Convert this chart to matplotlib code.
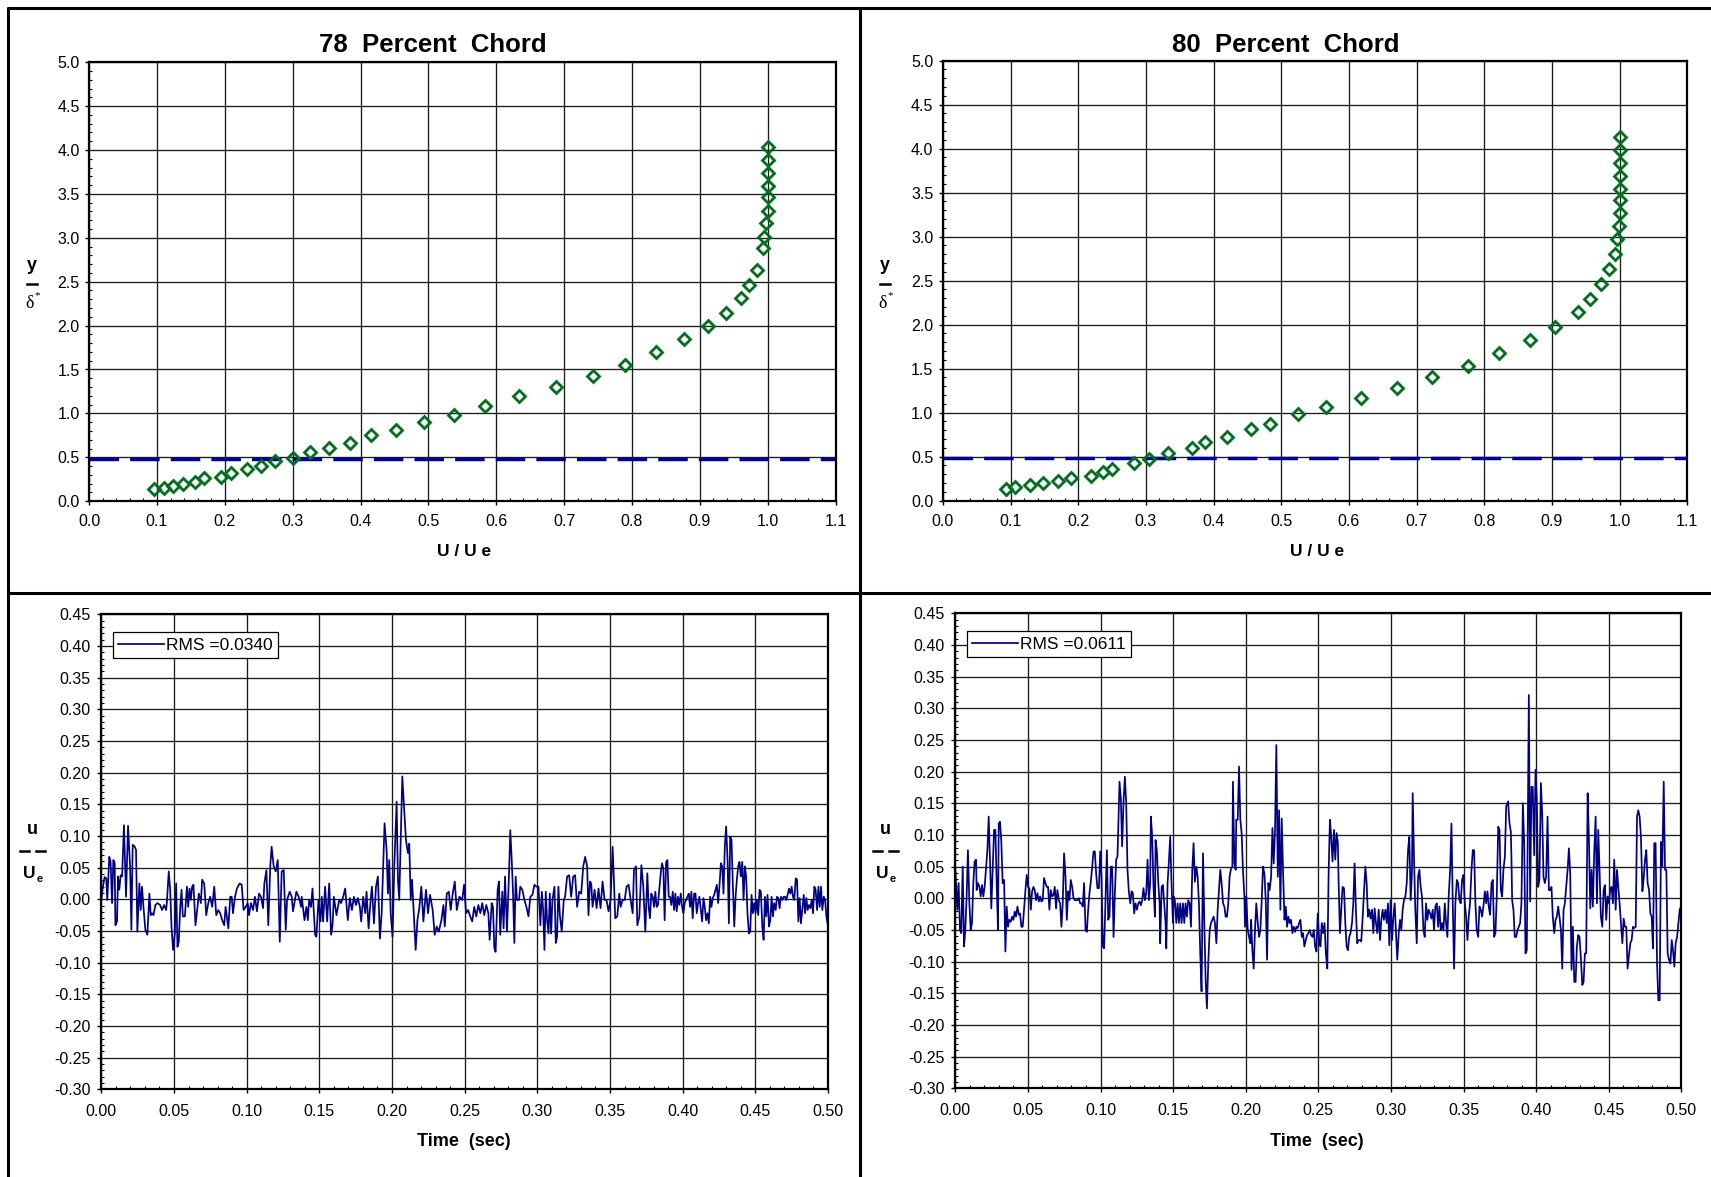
"""Boundary-layer surveys at 78 and 80 percent chord.

Top row: mean velocity profiles, y/delta* against U/Ue, with the reference
height drawn as a dashed line. Bottom row: hot-wire fluctuation traces u/Ue
against time, with the RMS level given in each legend. Saves ``out.png``.
"""

import matplotlib.pyplot as plt
import numpy as np
from matplotlib.lines import Line2D
from matplotlib.ticker import FormatStrFormatter, MultipleLocator

plt.rcParams["font.family"] = ["Liberation Sans", "DejaVu Sans"]
plt.rcParams["axes.unicode_minus"] = False

_W, _H = 1711, 1177
_INK = "#000000"
_GRID = "#1c1c1c"
_GREEN = "#00701e"
_NAVY = "#000084"
_DASH = "#000098"

STATIONS = ["78", "80"]

# Mean velocity profiles: U/Ue and y/delta*.
PROFILE_U_78 = [
    0.095, 0.110, 0.123, 0.139, 0.156, 0.170, 0.194, 0.209, 0.233, 0.253,
    0.274, 0.301, 0.326, 0.354, 0.384, 0.416, 0.452, 0.493, 0.538, 0.584,
    0.633, 0.688, 0.743, 0.789, 0.836, 0.877, 0.912, 0.938, 0.960, 0.973,
    0.984, 0.993, 0.995, 0.998, 1.000, 1.000, 1.000, 1.000, 1.000, 1.000,
]
PROFILE_Y_78 = [
    0.136, 0.155, 0.173, 0.196, 0.223, 0.261, 0.280, 0.325, 0.371, 0.405,
    0.454, 0.496, 0.557, 0.603, 0.667, 0.751, 0.811, 0.899, 0.978, 1.088,
    1.195, 1.301, 1.426, 1.555, 1.703, 1.852, 1.996, 2.148, 2.315, 2.467,
    2.634, 2.888, 3.013, 3.165, 3.309, 3.461, 3.590, 3.735, 3.886, 4.038,
]
PROFILE_U_80 = [
    0.093, 0.107, 0.128, 0.148, 0.170, 0.190, 0.219, 0.236, 0.250, 0.283,
    0.305, 0.332, 0.368, 0.388, 0.420, 0.456, 0.484, 0.525, 0.566, 0.618,
    0.671, 0.723, 0.776, 0.822, 0.867, 0.905, 0.938, 0.957, 0.973, 0.985,
    0.993, 0.996, 0.999, 1.000, 1.000, 1.000, 1.000, 1.000, 1.000, 1.000,
]
PROFILE_Y_80 = [
    0.133, 0.152, 0.174, 0.200, 0.223, 0.261, 0.280, 0.322, 0.364, 0.432,
    0.473, 0.542, 0.595, 0.663, 0.727, 0.811, 0.875, 0.985, 1.064, 1.170,
    1.277, 1.402, 1.530, 1.678, 1.830, 1.973, 2.140, 2.292, 2.466, 2.633,
    2.799, 2.973, 3.121, 3.265, 3.413, 3.542, 3.693, 3.833, 3.989, 4.136,
]
REF_HEIGHT = [0.48, 0.48]

# Fluctuation traces: (time in ms, u/Ue).
TRACE_78 = [
    (0.0, -0.001), (1.1, 0.020), (2.3, 0.035), (3.4, 0.033), (4.1, -0.001), (5.5, 0.067),
    (6.4, 0.059), (7.4, -0.006), (8.3, 0.062), (9.2, 0.057), (9.7, -0.041), (10.8, -0.035),
    (11.5, 0.036), (12.4, 0.015), (13.3, 0.038), (14.3, 0.036), (15.6, 0.117), (17.0, 0.004),
    (18.4, 0.116), (19.8, 0.052), (20.7, -0.048), (21.6, 0.086), (23.0, 0.083), (23.9, 0.078),
    (24.8, -0.051), (26.2, 0.025), (27.1, -0.017), (28.0, 0.020), (29.0, -0.012), (30.3, -0.048),
    (31.7, -0.056), (33.1, 0.009), (34.0, -0.025), (34.9, -0.022), (35.9, -0.025), (37.2, -0.009),
    (38.6, -0.006), (40.5, -0.009), (41.8, -0.017), (43.2, -0.009), (44.6, -0.017), (45.1, -0.006),
    (46.4, 0.044), (47.4, 0.015), (48.3, -0.043), (49.4, -0.080), (50.6, -0.054), (51.5, 0.025),
    (52.4, -0.075), (53.3, -0.067), (54.3, -0.012), (55.2, 0.015), (56.1, -0.027), (57.5, -0.027),
    (58.9, 0.020), (59.8, -0.012), (60.7, 0.017), (61.6, -0.001), (62.5, 0.020), (63.4, 0.023),
    (64.8, -0.041), (66.2, -0.012), (67.1, 0.009), (68.5, -0.006), (69.4, 0.031), (70.8, 0.025),
    (72.2, -0.025), (73.6, -0.006), (74.9, 0.004), (76.3, -0.012), (77.7, 0.020), (79.1, -0.025),
    (80.5, -0.017), (81.8, -0.022), (83.2, -0.033), (84.6, -0.041), (85.5, -0.012), (86.4, -0.027),
    (87.4, -0.046), (88.7, 0.004), (89.7, 0.004), (90.6, -0.022), (92.0, 0.004), (93.3, 0.017),
    (95.2, 0.025), (96.6, 0.023), (97.9, -0.017), (99.3, -0.012), (100.7, -0.006), (101.6, -0.025),
    (103.0, -0.006), (104.4, -0.017), (105.7, 0.004), (107.1, -0.019), (108.5, 0.009), (109.9, 0.004),
    (111.3, -0.014), (112.2, 0.025), (113.6, 0.046), (114.9, -0.041), (116.3, 0.054), (117.2, 0.083),
    (118.6, 0.052), (120.0, 0.044), (121.4, 0.062), (122.8, -0.067), (124.1, 0.044), (125.5, 0.046),
    (126.9, -0.048), (127.8, -0.001), (129.6, 0.012), (131.0, 0.004), (131.9, -0.019), (134.2, 0.012),
    (135.8, 0.004), (137.5, -0.012), (137.9, 0.004), (139.8, -0.033), (141.1, -0.012), (142.1, -0.033),
    (143.0, -0.001), (144.3, -0.012), (145.3, 0.017), (147.1, -0.056), (148.0, -0.059), (149.4, -0.001),
    (150.8, -0.035), (151.7, 0.004), (152.6, -0.035), (154.0, 0.020), (155.4, -0.035), (156.8, 0.025),
    (158.1, -0.056), (159.1, -0.041), (160.0, 0.004), (161.8, -0.025), (163.7, -0.001), (165.0, -0.006),
    (166.4, 0.004), (167.8, 0.017), (169.6, -0.033), (171.0, 0.002), (172.4, -0.017), (173.8, 0.004),
    (175.2, -0.009), (176.5, 0.002), (177.9, -0.012), (178.8, -0.035), (180.2, 0.004), (181.6, -0.022),
    (182.5, 0.012), (183.9, -0.046), (185.3, -0.001), (186.2, 0.020), (187.6, -0.038), (189.0, 0.020),
    (190.3, 0.036), (191.7, -0.062), (192.9, -0.022), (194.9, 0.120), (196.3, 0.078), (197.2, 0.009),
    (198.1, 0.062), (199.1, -0.022), (200.4, -0.059), (201.6, 0.052), (203.2, 0.154), (204.1, 0.031),
    (205.0, -0.001), (207.1, 0.194), (209.6, 0.094), (211.0, 0.073), (211.9, 0.088), (212.9, -0.001),
    (213.8, 0.031), (215.2, -0.033), (216.3, -0.080), (217.5, -0.033), (218.8, -0.014), (220.2, 0.020),
    (221.6, -0.035), (223.4, 0.015), (224.8, -0.022), (226.2, 0.007), (228.0, -0.017), (229.4, -0.056),
    (230.8, -0.043), (232.2, -0.051), (234.0, -0.033), (235.4, -0.009), (236.3, -0.043), (237.7, 0.009),
    (239.1, 0.012), (240.4, -0.017), (241.8, 0.009), (243.2, 0.028), (244.6, -0.017), (246.4, 0.004),
    (248.3, -0.001), (249.6, 0.023), (251.0, -0.022), (252.4, -0.017), (253.8, -0.027), (255.2, -0.035),
    (256.6, -0.012), (258.0, -0.027), (259.4, -0.009), (260.8, -0.022), (262.1, -0.006), (263.5, -0.025),
    (264.9, -0.009), (266.3, -0.022), (267.2, -0.064), (268.6, -0.006), (269.5, -0.012), (270.4, -0.077),
    (271.3, -0.083), (272.7, 0.015), (273.6, 0.028), (274.5, -0.056), (275.9, 0.012), (276.8, -0.046),
    (277.8, 0.036), (279.1, -0.051), (280.5, 0.038), (281.4, 0.109), (282.4, 0.062), (283.3, 0.009),
    (284.2, -0.069), (285.1, 0.036), (286.0, -0.001), (287.4, -0.001), (288.3, 0.020), (289.7, 0.015),
    (291.1, -0.001), (292.5, -0.012), (293.9, -0.027), (295.2, 0.004), (296.6, 0.007), (298.0, 0.023),
    (299.4, 0.020), (300.8, 0.020), (302.1, -0.041), (303.1, 0.012), (304.0, -0.017), (304.9, -0.080),
    (305.8, 0.012), (306.7, -0.033), (307.7, -0.054), (308.6, 0.009), (309.5, -0.054), (310.4, -0.001),
    (311.8, 0.020), (312.7, -0.069), (313.6, -0.059), (314.5, 0.020), (315.5, -0.025), (316.8, -0.051),
    (318.2, -0.001), (319.1, 0.004), (320.5, 0.036), (321.9, 0.038), (323.3, 0.004), (324.7, 0.036),
    (326.0, 0.038), (327.4, -0.012), (328.8, 0.012), (330.2, 0.009), (331.6, 0.052), (332.9, 0.067),
    (334.3, 0.052), (335.2, -0.025), (336.2, 0.028), (337.1, 0.025), (338.0, -0.012), (339.4, 0.015),
    (340.8, -0.014), (342.1, 0.017), (343.5, -0.014), (344.9, 0.028), (346.3, -0.001), (347.6, -0.001),
    (349.0, -0.019), (350.4, -0.001), (351.8, 0.083), (352.7, 0.031), (353.6, -0.030), (355.0, -0.027),
    (356.4, 0.009), (357.3, -0.012), (358.7, -0.001), (360.1, -0.001), (361.4, 0.020), (362.8, 0.023),
    (364.2, -0.001), (365.6, -0.022), (366.5, 0.046), (367.9, 0.052), (368.8, -0.041), (370.2, -0.027),
    (371.6, 0.054), (372.9, 0.020), (374.3, -0.051), (375.7, 0.041), (376.6, -0.012), (377.5, -0.030),
    (378.4, 0.009), (379.4, 0.004), (380.3, -0.012), (381.2, 0.012), (382.1, -0.012), (383.0, -0.009),
    (384.0, 0.017), (384.9, 0.041), (385.8, 0.057), (386.7, 0.049), (387.6, -0.033), (388.6, 0.059),
    (389.5, 0.062), (390.4, 0.004), (391.3, 0.004), (392.2, -0.009), (393.2, 0.012), (394.1, -0.017),
    (395.0, 0.009), (395.9, -0.019), (396.8, 0.004), (397.7, -0.009), (398.7, 0.009), (399.6, -0.012),
    (400.5, -0.022), (401.4, -0.006), (402.3, -0.001), (403.3, 0.004), (404.2, 0.009), (405.1, -0.012),
    (406.0, 0.012), (406.9, -0.030), (407.9, 0.009), (408.8, 0.009), (409.7, -0.022), (410.6, -0.006),
    (411.5, 0.004), (412.5, -0.017), (413.4, -0.035), (414.3, 0.002), (415.2, -0.012), (416.1, -0.033),
    (417.1, -0.022), (418.0, -0.038), (418.9, 0.004), (419.8, -0.012), (420.7, 0.002), (421.7, 0.007),
    (422.6, 0.015), (423.5, 0.023), (424.4, -0.006), (425.3, 0.020), (426.3, 0.057), (427.2, 0.052),
    (428.1, 0.009), (429.0, 0.083), (429.9, 0.115), (430.9, 0.062), (431.8, -0.038), (432.7, 0.099),
    (433.6, 0.094), (434.5, 0.025), (435.5, -0.043), (436.4, 0.004), (437.3, 0.031), (438.2, 0.052),
    (439.1, 0.059), (440.0, 0.036), (441.0, 0.059), (441.9, -0.001), (442.8, 0.052), (443.7, 0.036),
    (444.6, -0.022), (445.6, -0.054), (446.5, -0.051), (447.4, 0.007), (448.3, -0.022), (449.2, -0.006),
    (450.2, -0.022), (451.1, -0.001), (452.0, -0.025), (452.9, 0.015), (453.8, 0.012), (454.8, -0.043),
    (455.7, -0.064), (456.6, 0.004), (457.5, -0.027), (458.4, 0.007), (459.4, -0.043), (460.3, -0.033),
    (461.2, 0.004), (462.1, -0.027), (463.0, -0.006), (464.0, -0.017), (464.9, 0.004), (465.8, 0.002),
    (466.7, -0.014), (467.6, 0.004), (468.6, -0.001), (469.5, 0.004), (470.4, 0.004), (471.3, -0.001),
    (472.2, 0.007), (473.2, 0.017), (474.1, 0.009), (475.0, 0.020), (475.9, 0.004), (476.8, -0.001),
    (477.8, 0.033), (478.7, 0.031), (479.6, -0.035), (480.5, 0.002), (481.4, -0.038), (482.3, -0.017),
    (483.3, 0.007), (484.2, -0.022), (485.1, 0.002), (486.0, -0.017), (486.9, -0.009), (487.9, -0.014),
    (488.8, -0.001), (489.7, -0.022), (490.6, 0.020), (491.5, 0.015), (492.5, -0.017), (493.4, 0.020),
    (494.3, -0.012), (495.2, 0.020), (496.1, -0.017), (497.1, 0.004), (498.0, -0.001), (498.9, -0.027),
    (499.8, -0.041), (500.0, -0.043),
]
TRACE_80 = [
    (0.0, 0.045), (0.5, 0.024), (1.4, -0.018), (2.3, 0.024), (3.2, -0.050), (4.1, -0.055),
    (5.1, 0.050), (6.0, -0.076), (6.9, -0.050), (7.8, 0.003), (8.7, 0.076), (9.7, -0.008),
    (10.6, -0.050), (11.5, -0.039), (12.4, 0.024), (13.3, 0.058), (14.3, 0.061), (14.7, 0.013),
    (15.6, 0.024), (16.6, 0.018), (17.5, 0.003), (18.4, 0.021), (19.3, 0.003), (20.2, 0.018),
    (21.1, 0.045), (22.1, 0.076), (23.0, 0.129), (23.9, 0.061), (24.8, -0.016), (25.7, 0.045),
    (26.7, 0.108), (27.6, 0.108), (28.5, 0.024), (29.4, -0.050), (29.9, 0.118), (30.8, 0.121),
    (31.7, 0.089), (32.6, 0.024), (33.6, 0.029), (34.5, -0.084), (35.4, -0.013), (36.3, -0.045),
    (37.2, -0.034), (38.2, -0.037), (39.1, -0.029), (40.0, -0.034), (40.9, -0.021), (41.8, -0.029),
    (42.8, -0.013), (43.7, -0.026), (44.6, -0.024), (45.5, -0.045), (46.4, -0.045), (47.4, -0.016),
    (48.3, 0.013), (49.2, 0.037), (50.1, 0.018), (51.0, 0.016), (52.0, -0.018), (52.9, 0.011),
    (53.8, 0.018), (54.7, 0.013), (55.6, -0.003), (56.6, 0.008), (57.5, -0.005), (58.4, 0.003),
    (59.3, -0.005), (60.2, -0.003), (61.1, 0.032), (62.1, 0.024), (63.0, 0.018), (63.9, 0.018),
    (64.8, -0.018), (65.7, 0.013), (66.7, 0.003), (67.6, 0.005), (68.5, 0.018), (69.4, -0.016),
    (70.3, 0.013), (71.3, -0.003), (72.2, -0.008), (73.1, -0.045), (74.0, -0.008), (74.9, 0.071),
    (75.9, 0.034), (76.8, -0.034), (77.7, 0.011), (78.6, -0.003), (79.5, 0.029), (80.5, 0.018),
    (81.4, 0.000), (82.3, -0.003), (83.2, -0.003), (84.1, -0.003), (85.1, 0.000), (86.0, -0.008),
    (86.9, -0.008), (87.8, -0.013), (88.7, 0.024), (89.7, -0.050), (90.6, -0.053), (91.5, -0.018),
    (92.4, 0.008), (93.3, 0.026), (94.3, 0.050), (95.2, 0.074), (96.1, 0.074), (97.0, 0.039),
    (97.9, 0.016), (98.9, 0.016), (99.8, 0.074), (100.7, 0.034), (101.6, -0.076), (102.5, -0.079),
    (103.4, -0.008), (104.4, 0.076), (105.3, -0.034), (106.2, -0.029), (107.1, 0.050), (108.0, 0.050),
    (109.0, -0.061), (109.9, 0.008), (110.8, 0.061), (111.7, 0.066), (112.6, 0.139), (113.1, 0.184),
    (114.0, 0.158), (114.9, 0.082), (115.9, 0.155), (116.8, 0.192), (117.7, 0.150), (118.6, 0.045),
    (119.5, 0.011), (120.5, -0.008), (121.4, 0.011), (122.3, 0.008), (123.2, -0.024), (124.1, -0.008),
    (125.1, -0.018), (126.0, -0.008), (126.9, -0.005), (127.8, -0.011), (128.7, -0.003), (129.6, 0.016),
    (130.6, -0.003), (131.5, 0.008), (132.4, 0.061), (133.3, -0.003), (134.2, 0.024), (134.7, 0.129),
    (135.6, 0.097), (136.5, 0.018), (137.5, -0.029), (137.9, 0.092), (138.8, 0.076), (139.8, 0.024),
    (140.7, -0.008), (141.1, -0.071), (142.1, 0.018), (143.0, 0.021), (143.9, -0.008), (144.8, -0.039),
    (145.3, -0.079), (146.2, 0.024), (147.1, 0.058), (148.0, 0.097), (148.9, 0.024), (149.9, -0.039),
    (150.3, 0.003), (151.2, -0.003), (152.2, -0.039), (153.1, -0.008), (154.0, -0.039), (154.9, -0.008),
    (155.8, -0.039), (156.8, -0.008), (157.7, -0.039), (158.6, -0.008), (159.5, -0.029), (160.4, -0.003),
    (161.4, -0.008), (162.3, -0.045), (163.2, 0.045), (164.1, 0.087), (165.0, 0.026), (166.0, 0.050),
    (166.9, 0.034), (167.8, -0.008), (168.7, -0.087), (169.6, -0.147), (170.6, 0.071), (171.5, -0.039),
    (172.4, -0.129), (173.3, -0.174), (174.2, -0.103), (175.2, -0.050), (176.1, -0.039), (177.0, -0.034),
    (177.9, -0.029), (178.8, -0.039), (179.8, -0.071), (180.7, -0.018), (181.6, 0.013), (182.5, 0.045),
    (183.4, 0.024), (184.4, -0.008), (185.3, -0.013), (186.2, -0.029), (187.1, -0.029), (188.0, -0.008),
    (188.9, 0.034), (189.9, 0.047), (190.8, 0.050), (191.2, 0.184), (192.2, 0.055), (193.1, 0.045),
    (193.5, 0.124), (194.5, 0.124), (195.4, 0.208), (196.3, 0.124), (197.2, 0.103), (198.1, 0.045),
    (199.1, 0.003), (199.5, -0.045), (200.4, 0.003), (201.4, -0.050), (202.3, -0.061), (203.2, -0.071),
    (203.7, -0.034), (204.6, -0.082), (205.5, -0.111), (206.4, -0.050), (207.3, -0.008), (208.3, -0.039),
    (209.2, -0.061), (210.1, -0.050), (211.0, -0.005), (211.9, 0.050), (212.9, 0.039), (213.8, -0.003),
    (214.7, -0.097), (215.6, 0.024), (216.5, 0.013), (217.5, 0.034), (218.4, 0.111), (219.3, 0.055),
    (220.2, 0.108), (221.1, 0.242), (222.1, 0.034), (223.0, 0.139), (223.9, -0.018), (224.8, 0.126),
    (225.7, 0.045), (226.7, -0.034), (227.6, -0.013), (228.5, -0.045), (229.4, -0.029), (230.3, -0.039),
    (231.2, -0.034), (232.2, -0.055), (233.1, -0.045), (234.0, -0.053), (234.9, -0.045), (235.8, -0.047),
    (236.8, -0.039), (237.7, -0.034), (238.6, -0.061), (239.5, -0.055), (240.4, -0.076), (241.4, -0.066),
    (242.3, -0.058), (243.2, -0.055), (244.1, -0.050), (245.0, -0.058), (246.0, -0.061), (246.9, -0.050),
    (247.8, -0.076), (248.7, -0.084), (249.6, -0.024), (250.6, -0.066), (251.5, -0.076), (252.4, -0.039),
    (253.3, -0.055), (254.3, -0.039), (255.2, -0.087), (256.2, -0.111), (257.1, 0.039), (258.0, 0.124),
    (258.9, 0.097), (259.8, 0.058), (260.8, 0.108), (261.7, 0.061), (262.6, 0.103), (263.5, 0.087),
    (264.0, 0.024), (264.9, -0.055), (265.8, -0.018), (266.7, 0.018), (267.7, 0.016), (268.6, -0.039),
    (269.5, -0.076), (270.4, -0.082), (271.3, -0.061), (272.2, -0.055), (273.2, -0.039), (274.1, -0.008),
    (275.0, 0.055), (275.9, -0.018), (276.8, -0.071), (277.8, -0.066), (278.7, -0.066), (279.6, -0.068),
    (280.5, -0.032), (281.4, 0.008), (282.4, 0.050), (283.3, 0.024), (284.2, -0.029), (285.1, -0.018),
    (286.0, -0.032), (287.0, -0.018), (287.9, -0.055), (288.8, -0.016), (289.7, -0.039), (290.6, -0.055),
    (291.6, -0.018), (292.5, -0.066), (293.4, -0.034), (294.3, -0.018), (295.2, -0.034), (296.2, -0.018),
    (297.1, -0.039), (298.0, -0.008), (298.9, -0.074), (299.8, -0.003), (300.8, -0.066), (301.7, -0.029),
    (302.6, -0.008), (303.5, -0.055), (304.4, -0.097), (305.4, -0.055), (306.3, -0.034), (307.2, -0.050),
    (308.1, -0.018), (309.0, -0.003), (310.0, 0.003), (310.9, 0.024), (311.8, 0.076), (312.7, 0.097),
    (313.6, -0.003), (314.5, 0.039), (315.0, 0.166), (315.9, 0.066), (316.8, -0.018), (317.8, -0.071),
    (318.7, 0.034), (319.6, 0.045), (320.5, 0.018), (321.4, 0.003), (322.4, -0.050), (323.3, -0.061),
    (324.2, -0.008), (325.1, -0.034), (326.0, -0.018), (327.0, -0.024), (327.9, -0.032), (328.8, -0.018),
    (329.7, -0.050), (330.6, -0.013), (331.6, -0.008), (332.5, -0.045), (333.4, -0.013), (334.3, -0.050),
    (335.2, -0.039), (336.2, -0.050), (337.1, -0.008), (338.0, -0.039), (338.9, -0.061), (339.8, 0.003),
    (340.8, 0.045), (341.7, 0.118), (342.6, -0.008), (343.5, -0.111), (344.4, -0.008), (345.4, 0.029),
    (346.3, 0.024), (347.2, -0.003), (348.1, -0.008), (349.0, 0.029), (350.0, 0.037), (350.9, -0.008),
    (351.8, -0.029), (352.7, -0.066), (353.6, -0.029), (354.5, -0.008), (355.5, 0.045), (356.4, 0.076),
    (357.3, 0.076), (358.2, -0.008), (359.1, -0.050), (360.1, -0.061), (361.0, -0.013), (361.9, -0.018),
    (362.8, -0.029), (363.7, -0.013), (364.7, 0.011), (365.6, -0.008), (366.5, 0.011), (367.4, -0.013),
    (368.3, -0.026), (369.3, 0.024), (370.2, 0.029), (371.1, -0.061), (372.0, -0.055), (372.9, 0.003),
    (373.9, 0.113), (374.8, 0.108), (375.7, 0.013), (376.6, 0.003), (377.5, 0.045), (378.5, 0.066),
    (379.4, 0.145), (380.7, 0.153), (381.7, 0.118), (382.6, 0.105), (383.0, 0.066), (383.5, -0.003),
    (384.4, -0.018), (385.3, -0.061), (386.3, -0.061), (387.2, -0.050), (388.1, -0.045), (389.0, -0.039),
    (389.9, -0.008), (390.9, 0.150), (391.8, 0.087), (392.7, -0.087), (393.6, -0.082), (394.1, 0.066),
    (395.0, 0.321), (395.9, -0.005), (396.8, 0.176), (397.7, 0.176), (398.7, 0.068), (399.6, 0.203),
    (400.5, 0.155), (401.4, 0.018), (402.3, 0.029), (403.3, 0.182), (404.2, 0.134), (405.1, 0.034),
    (406.0, 0.024), (406.9, 0.034), (407.9, 0.129), (408.8, 0.013), (409.7, 0.013), (410.6, 0.018),
    (411.5, -0.029), (412.5, -0.055), (413.4, -0.034), (414.3, -0.029), (415.2, -0.013), (416.1, -0.029),
    (417.1, -0.050), (418.0, -0.111), (418.9, -0.018), (419.8, -0.008), (420.7, 0.018), (421.7, 0.045),
    (422.6, 0.079), (423.5, 0.039), (424.4, -0.113), (425.3, -0.045), (426.3, -0.132), (427.2, -0.132),
    (428.1, -0.076), (429.0, -0.058), (429.9, -0.061), (430.9, -0.097), (431.8, -0.137), (432.7, -0.132),
    (433.6, -0.087), (434.5, -0.087), (435.5, 0.166), (436.4, 0.092), (437.3, -0.016), (438.2, 0.045),
    (439.1, -0.013), (440.0, 0.071), (441.0, 0.129), (441.9, -0.008), (442.8, 0.108), (443.7, 0.045),
    (444.6, -0.029), (445.6, -0.045), (446.5, 0.013), (447.4, 0.021), (448.3, -0.034), (449.2, 0.003),
    (450.2, -0.008), (451.1, 0.016), (452.0, 0.018), (452.9, -0.008), (453.8, 0.061), (454.8, -0.018),
    (455.7, 0.045), (456.6, 0.018), (457.5, -0.008), (458.4, -0.039), (459.4, -0.071), (460.3, -0.032),
    (461.2, -0.045), (462.1, -0.045), (463.0, -0.111), (464.0, -0.089), (464.9, -0.071), (465.8, -0.066),
    (466.7, -0.045), (467.6, -0.047), (468.6, -0.045), (469.5, 0.129), (470.4, 0.139), (471.3, 0.129),
    (472.2, 0.097), (473.2, 0.011), (474.1, 0.032), (475.0, 0.061), (475.9, 0.076), (476.8, 0.024),
    (477.8, 0.013), (478.7, -0.024), (479.6, -0.029), (480.5, -0.079), (481.4, 0.087), (482.3, 0.087),
    (483.3, -0.103), (484.2, -0.161), (485.1, -0.161), (486.0, 0.089), (486.9, 0.050), (487.9, 0.184),
    (488.8, 0.045), (489.7, 0.045), (490.6, -0.087), (491.5, -0.097), (492.5, -0.103), (493.4, -0.066),
    (494.3, -0.082), (495.2, -0.108), (496.1, -0.071), (497.1, -0.061), (498.0, -0.039), (498.9, -0.018),
    (499.8, -0.013), (500.0, -0.030),
]
RMS = [0.0340, 0.0611]


def fig_rect(left: float, top: float, right: float, bottom: float) -> list[float]:
    """Turn a pixel box measured from the top-left corner into a figure rect."""
    return [left / _W, 1 - bottom / _H, (right - left) / _W, (bottom - top) / _H]


def fx(x: float) -> float:
    return x / _W


def fy(y: float) -> float:
    return 1 - y / _H


def frame_axes(ax, xmajor, xminor, ymajor, yminor, xfmt, yfmt, xpad, ypad) -> None:
    """Grid, spines and ticks shared by all four panels."""
    ax.xaxis.set_major_locator(MultipleLocator(xmajor))
    ax.xaxis.set_minor_locator(MultipleLocator(xminor))
    ax.yaxis.set_major_locator(MultipleLocator(ymajor))
    ax.yaxis.set_minor_locator(MultipleLocator(yminor))
    ax.xaxis.set_major_formatter(FormatStrFormatter(xfmt))
    ax.yaxis.set_major_formatter(FormatStrFormatter(yfmt))
    ax.grid(which="major", color=_GRID, linewidth=0.95)
    ax.set_axisbelow(True)
    for spine in ax.spines.values():
        spine.set_color(_INK)
        spine.set_linewidth(1.6)
    ax.tick_params(which="major", direction="out", length=3, width=1,
                   colors=_INK, labelsize=11.5)
    ax.tick_params(axis="x", which="major", pad=xpad)
    ax.tick_params(axis="y", which="major", pad=ypad)
    ax.tick_params(which="minor", direction="in", length=2.5, width=0.8, colors=_INK)


def draw_profile(ax, u, y, ref) -> None:
    ax.plot(u, y, linestyle="none", marker="D", markersize=6.2,
            markerfacecolor="none", markeredgecolor=_GREEN, markeredgewidth=2.0,
            zorder=3)
    ax.axhline(ref, color=_DASH, linewidth=2.5, linestyle=(0, (8.5, 3.2)), zorder=2)
    ax.set_xlim(0, 1.1)
    ax.set_ylim(0, 5)
    frame_axes(ax, 0.1, 0.02, 0.5, 0.1, "%.1f", "%.1f", 6.5, 3.8)


def draw_trace(ax, trace, rms) -> None:
    t_ms, u = np.array(trace).T
    ax.plot(t_ms / 1000.0, u, color=_NAVY, linewidth=1.25, label=f"RMS ={rms:.4f}")
    ax.set_xlim(0, 0.5)
    ax.set_ylim(-0.30, 0.45)
    frame_axes(ax, 0.05, 0.01, 0.05, 0.01, "%.2f", "%.2f", 7.5, 4.8)
    leg = ax.legend(loc="upper left", bbox_to_anchor=(0.016, 0.963),
                    borderaxespad=0, fontsize=12.5, handlelength=2.6,
                    handletextpad=0.15, borderpad=0.32, fancybox=False,
                    framealpha=1, edgecolor=_INK)
    leg.get_frame().set_linewidth(0.9)


def main() -> None:
    fig = plt.figure(figsize=(_W / 100, _H / 100), dpi=100, facecolor="white")

    profiles = [(PROFILE_U_78, PROFILE_Y_78), (PROFILE_U_80, PROFILE_Y_80)]
    traces = [TRACE_78, TRACE_80]
    top_boxes = [(89.1, 62.2, 835.6, 501.2), (942.9, 60.7, 1687.2, 500.7)]
    bottom_boxes = [(101.3, 614.3, 828.0, 1089.3), (955.3, 613.3, 1681.3, 1088.3)]
    # column offset of the right-hand cell, in pixels
    shifts = [0.0, 853.0]

    for i, station in enumerate(STATIONS):
        ax_top = fig.add_axes(fig_rect(*top_boxes[i]))
        draw_profile(ax_top, *profiles[i], REF_HEIGHT[i])
        ax_bot = fig.add_axes(fig_rect(*bottom_boxes[i]))
        draw_trace(ax_bot, traces[i], RMS[i])

        dx = shifts[i]
        fig.text(fx(433 + dx), fy(45), f"{station}  Percent  Chord",
                 ha="center", va="center", fontsize=18.5, fontweight="bold")
        fig.text(fx(464 + dx), fy(551), "U / U e", ha="center", va="center",
                 fontsize=12.5, fontweight="bold")
        fig.text(fx(464 + dx), fy(1142), "Time  (sec)", ha="center", va="center",
                 fontsize=13, fontweight="bold")

        # y / delta* stacked label
        fig.text(fx(32 + dx), fy(266), "y", ha="center", va="center",
                 fontsize=13, fontweight="bold")
        fig.add_artist(Line2D([fx(27 + dx), fx(37 + dx)], [fy(284), fy(284)],
                              color=_INK, linewidth=1.8))
        fig.text(fx(30 + dx), fy(303), "δ", ha="center", va="center",
                 fontsize=13, family="Liberation Serif")
        fig.text(fx(37 + dx), fy(296), "*", ha="center", va="center",
                 fontsize=8, family="Liberation Serif")

        # u / Ue stacked label
        fig.text(fx(32 + dx), fy(829), "u", ha="center", va="center",
                 fontsize=13, fontweight="bold")
        for x0, x1 in ((19.5, 28.5), (36.0, 45.0)):
            fig.add_artist(Line2D([fx(x0 + dx), fx(x1 + dx)], [fy(851), fy(851)],
                                  color=_INK, linewidth=1.8))
        fig.text(fx(29 + dx), fy(874), "U", ha="center", va="center",
                 fontsize=12.5, fontweight="bold")
        fig.text(fx(39.5 + dx), fy(879), "e", ha="center", va="center",
                 fontsize=8, fontweight="bold")

    # cell borders
    border = dict(color=_INK, linewidth=2.2, solid_capstyle="butt")
    fig.add_artist(Line2D([fx(7.5), fx(7.5)], [fy(6.5), 0], **border))
    fig.add_artist(Line2D([fx(6.5), 1], [fy(7.5), fy(7.5)], **border))
    fig.add_artist(Line2D([fx(860), fx(860)], [fy(6.5), 0], **border))
    fig.add_artist(Line2D([fx(6.5), 1], [fy(592.5), fy(592.5)], **border))

    fig.savefig("out.png", dpi=100, facecolor="white")
    plt.close(fig)


if __name__ == "__main__":
    main()
